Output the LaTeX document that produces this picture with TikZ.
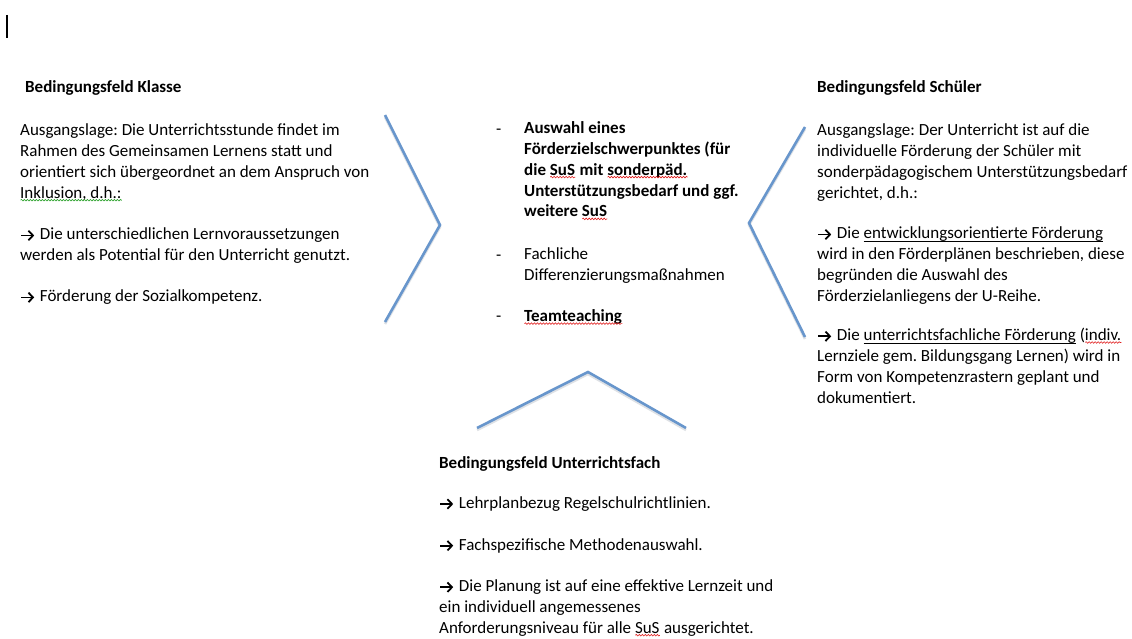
\documentclass[tikz,border=0pt]{standalone}
\usepackage{fontspec}
\setmainfont{Carlito}
\usetikzlibrary{decorations.pathmorphing,arrows.meta}
\definecolor{chev}{RGB}{104,150,204}
\definecolor{chevshadow}{RGB}{200,205,212}
\definecolor{spellred}{RGB}{225,30,30}
\definecolor{spellgreen}{RGB}{40,160,40}
\newcommand\ra{\tikz[baseline=0pt]\draw[line width=1.8pt,line cap=butt,-{Straight Barb[length=4.5pt,width=9.5pt,line width=1.8pt]}] (0.9pt,4.3pt)--(14pt,4.3pt);\hspace{1pt}}
\newcommand\wv[2]{\setbox0\hbox{#2}\rlap{\usebox0}\raisebox{-3pt}{\tikz\draw[#1,line width=0.6pt,decorate,decoration={snake,amplitude=0.8pt,segment length=3pt}](0pt,0pt)--(\wd0,0pt);}}
\newcommand\ulc[1]{\setbox0\hbox{#1}\rlap{\usebox0}\rule[-2.6pt]{\wd0}{0.7pt}}
\tikzset{
  txt/.style={anchor=base west,inner sep=0pt,align=left,font=\fontsize{17}{20.9}\selectfont},
  hdr/.style={txt,font=\fontsize{17}{20.9}\selectfont\bfseries},
  chevline/.style={draw=chev,line width=2.6pt,line join=miter},
  chevsh/.style={draw=chevshadow,line width=2.6pt,opacity=0.6}
}
\frenchspacing
\begin{document}
\begin{tikzpicture}[x=1pt,y=-1pt]
\useasboundingbox[fill=white] (0,0) rectangle (1132,639);
% cursor
\draw[line width=1.5pt] (7,15) -- (7,38);
% chevrons
\coordinate (L1) at (385,115); \coordinate (L2) at (440,225); \coordinate (L3) at (385,322);
\coordinate (R1) at (805,127); \coordinate (R2) at (749,223); \coordinate (R3) at (805,337);
\coordinate (B1) at (477,428); \coordinate (B2) at (588,372); \coordinate (B3) at (686,428);
\draw[chevsh] ([yshift=-2pt]L1) -- ([yshift=-2pt]L2) -- ([yshift=-2pt]L3);
\draw[chevsh] ([yshift=-2pt]R1) -- ([yshift=-2pt]R2) -- ([yshift=-2pt]R3);
\draw[chevsh] ([yshift=-2pt]B1) -- ([yshift=-2pt]B2) -- ([yshift=-2pt]B3);
\draw[chevline] (L1) -- (L2) -- (L3);
\draw[chevline] (R1) -- (R2) -- (R3);
\draw[chevline] (B1) -- (B2) -- (B3);
% left block (base anchor = baseline of last line)
\node[hdr] (kh) at (25,93) {Bedingungsfeld Klasse};
\node[txt] (k1) at (20,198.3) {Ausgangslage: Die Unterrichtsstunde findet im\\Rahmen des Gemeinsamen Lernens statt und\\orientiert sich übergeordnet an dem Anspruch von\\\wv{spellgreen}{Inklusion, d.h.:}};
\node[txt] (k2) at (20,260.7) {\ra{} Die unterschiedlichen Lernvoraussetzungen\\werden als Potential für den Unterricht genutzt.};
\node[txt] (k3) at (20,301.7) {\ra{} Förderung der Sozialkompetenz.};
% middle block
\node[txt] (d1) at (496,135) {-};
\node[hdr] (m1) at (524,217) {Auswahl eines\\Förderzielschwerpunktes (für\\die \wv{spellred}{SuS} mit \wv{spellred}{sonderpäd.}\\Unterstützungsbedarf und ggf.\\weitere \wv{spellred}{SuS}};
\node[txt] (d2) at (496,260) {-};
\node[txt] (m2) at (524,280.5) {Fachliche\\Differenzierungsmaßnahmen};
\node[txt] (d3) at (496,321.7) {-};
\node[hdr] (m3) at (524,321.7) {\wv{spellred}{Teamteaching}};
% right block
\node[hdr] (rh) at (817,92.7) {Bedingungsfeld Schüler};
\node[txt] (r1) at (817,198.3) {Ausgangslage: Der Unterricht ist auf die\\individuelle Förderung der Schüler mit\\sonderpädagogischem Unterstützungsbedarf\\gerichtet, d.h.:};
\node[txt] (r2) at (817,301.5) {\ra{} Die \ulc{entwicklungsorientierte Förderung}\\wird in den Förderplänen beschrieben, diese\\begründen die Auswahl des\\Förderzielanliegens der U-Reihe.};
\node[txt] (r3) at (817,403.3) {\ra{} Die \ulc{unterrichtsfachliche Förderung} (\wv{spellred}{indiv.}\\Lernziele gem. Bildungsgang Lernen) wird in\\Form von Kompetenzrastern geplant und\\dokumentiert.};
% bottom block
\node[hdr] (bh) at (439,468.3) {Bedingungsfeld Unterrichtsfach};
\node[txt] (b1) at (439,508.3) {\ra{} Lehrplanbezug Regelschulrichtlinien.};
\node[txt] (b2) at (439,550) {\ra{} Fachspezifische Methodenauswahl.};
\node[txt] (b3) at (439,633.3) {\ra{} Die Planung ist auf eine effektive Lernzeit und\\ein individuell angemessenes\\Anforderungsniveau für alle \wv{spellred}{SuS} ausgerichtet.};
\end{tikzpicture}
\end{document}
